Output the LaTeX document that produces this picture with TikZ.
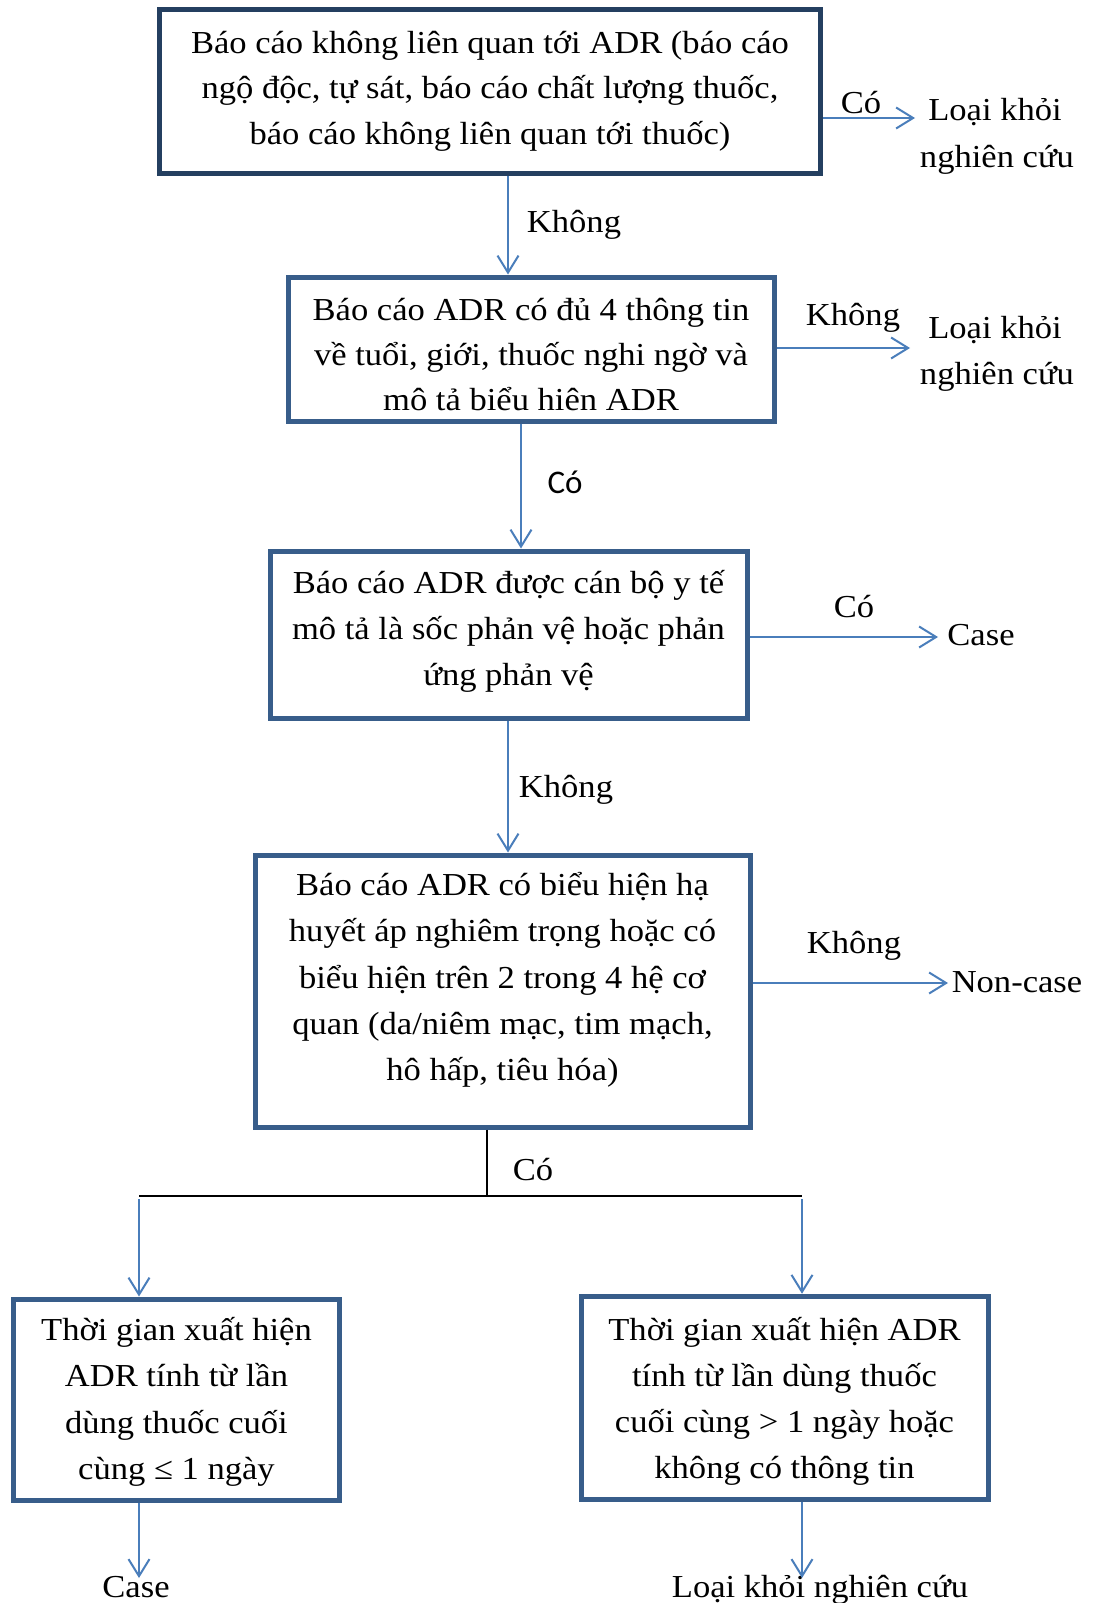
\documentclass[tikz,border=0pt]{standalone}
\usepackage{fontspec}
\setmainfont{Liberation Serif}[FakeStretch=1.08]
\newfontfamily\calib{Carlito}
\usetikzlibrary{arrows.meta}
\definecolor{boxdark}{HTML}{243F60}
\definecolor{boxblue}{HTML}{385D8A}
\definecolor{arrblue}{HTML}{4A7EBB}
\begin{document}
\begin{tikzpicture}[x=1pt,y=-1pt,
  box/.style={draw=boxblue, line width=5pt, inner sep=0pt},
  txt/.style={inner sep=0pt, anchor=base, font=\fontsize{32}{38}\selectfont},
  arr/.style={draw=arrblue, line width=2pt, -{Straight Barb[length=17pt,width=21pt]}},
  blk/.style={draw=black, line width=2pt}]
\useasboundingbox (0,0) rectangle (1095,1603);
\clip (0,0) rectangle (1095,1603);
\fill[white] (0,0) rectangle (1095,1603);

% boxes
\node[box, draw=boxdark, minimum width=661pt, minimum height=163.5pt] (b1) at (490,91.75) {};
\node[box, minimum width=486pt, minimum height=144pt] (b2) at (531,349) {};
\node[box, minimum width=477pt, minimum height=167pt] (b3) at (508.5,634.5) {};
\node[box, minimum width=495pt, minimum height=272pt] (b4) at (502.5,991) {};
\node[box, minimum width=326pt, minimum height=201pt] (b5) at (176.5,1399.5) {};
\node[box, minimum width=407pt, minimum height=203.5pt] (b6) at (784.5,1398) {};

% box texts
\node[txt] (b1l1) at (490,53) {Báo cáo không liên quan tới ADR (báo cáo};
\node[txt] (b1l2) at (490,99) {ngộ độc, tự sát, báo cáo chất lượng thuốc,};
\node[txt] (b1l3) at (490,144) {báo cáo không liên quan tới thuốc)};

\node[txt] (b2l1) at (531,320) {Báo cáo ADR có đủ 4 thông tin};
\node[txt] (b2l2) at (531,365) {về tuổi, giới, thuốc nghi ngờ và};
\begin{scope}
  \clip (290,280) rectangle (772,411);
  \node[txt] (b2l3) at (531,410) {mô tả biểu hiện ADR};
\end{scope}

\node[txt] (b3l1) at (508.5,593) {Báo cáo ADR được cán bộ y tế};
\node[txt] (b3l2) at (508.5,639) {mô tả là sốc phản vệ hoặc phản};
\node[txt] (b3l3) at (508.5,685) {ứng phản vệ};

\node[txt] (b4l1) at (502.5,895) {Báo cáo ADR có biểu hiện hạ};
\node[txt] (b4l2) at (502.5,941) {huyết áp nghiêm trọng hoặc có};
\node[txt] (b4l3) at (502.5,988) {biểu hiện trên 2 trong 4 hệ cơ};
\node[txt] (b4l4) at (502.5,1034) {quan (da/niêm mạc, tim mạch,};
\node[txt] (b4l5) at (502.5,1080) {hô hấp, tiêu hóa)};

\node[txt] (b5l1) at (176.5,1340) {Thời gian xuất hiện};
\node[txt] (b5l2) at (176.5,1386) {ADR tính từ lần};
\node[txt] (b5l3) at (176.5,1433) {dùng thuốc cuối};
\node[txt] (b5l4) at (176.5,1479) {cùng ≤ 1 ngày};

\node[txt] (b6l1) at (784.5,1340) {Thời gian xuất hiện ADR};
\node[txt] (b6l2) at (784.5,1386) {tính từ lần dùng thuốc};
\node[txt] (b6l3) at (784.5,1432) {cuối cùng > 1 ngày hoặc};
\node[txt] (b6l4) at (784.5,1478) {không có thông tin};

% outcome texts
\node[txt] (o1a) at (995,120) {Loại khỏi};
\node[txt] (o1b) at (997,167) {nghiên cứu};
\node[txt] (o2a) at (995,338) {Loại khỏi};
\node[txt] (o2b) at (997,384) {nghiên cứu};
\node[txt] (o3) at (981,645) {Case};
\node[txt] (o4) at (1017,992) {Non-case};
\node[txt] (o5) at (136,1597) {Case};
\node[txt] (o6) at (820,1597) {Loại khỏi nghiên cứu};

% connector labels
\node[txt] (c1) at (861,113) {Có};
\node[txt] (k1) at (574,232) {Không};
\node[txt] (k2) at (853,325) {Không};
\node[txt, font=\calib\fontsize{33}{38}\selectfont] (c2) at (565,493) {Có};
\node[txt] (c3) at (854,617) {Có};
\node[txt] (k3) at (566,797) {Không};
\node[txt] (k4) at (854,953) {Không};
\node[txt] (c4) at (533,1180) {Có};

% helper coordinates
\coordinate (e1) at (915,118);
\coordinate (e2) at (910,348);
\coordinate (e3) at (938,637);
\coordinate (e4) at (948,983);
\coordinate (x1) at (508,0);
\coordinate (x2) at (521,0);
\coordinate (x3) at (487,0);
\coordinate (j) at (487,1196);
\coordinate (jl) at (139,1196);
\coordinate (jr) at (802,1196);
\coordinate (sl) at (139,1199);
\coordinate (sr) at (802,1199);
\coordinate (f5) at (139,1578);
\coordinate (f6) at (802,1578);

% connectors
\draw[arr] (b1.east |- e1) -- (e1);
\draw[arr] (b2.east |- e2) -- (e2);
\draw[arr] (b3.east |- e3) -- (e3);
\draw[arr] (b4.east |- e4) -- (e4);
\draw[arr] (b1.south -| x1) -- (b2.north -| x1);
\draw[arr] (b2.south -| x2) -- (b3.north -| x2);
\draw[arr] (b3.south -| x1) -- (b4.north -| x1);
\draw[blk] (b4.south -| x3) -- (j);
\draw[blk] (jl) -- (jr);
\draw[arr] (sl) -- (b5.north -| sl);
\draw[arr] (sr) -- (b6.north -| sr);
\draw[arr] (b5.south -| f5) -- (f5);
\draw[arr] (b6.south -| f6) -- (f6);
\end{tikzpicture}
\end{document}
